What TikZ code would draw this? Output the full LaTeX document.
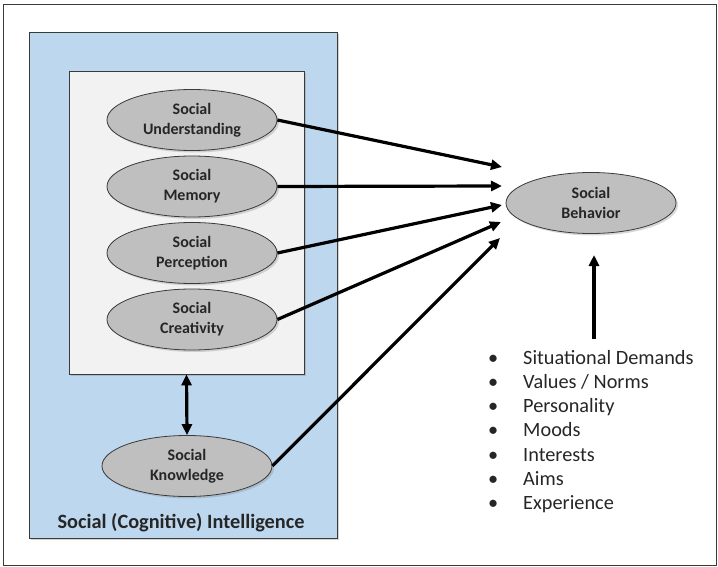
\documentclass[tikz,border=0pt]{standalone}
\usepackage{fontspec}
\setmainfont{Carlito}
\usetikzlibrary{positioning,shadows,arrows.meta,shapes.geometric}

\definecolor{siblue}{HTML}{BDD7EE}
\definecolor{siback}{HTML}{F2F2F2}
\definecolor{sigray}{HTML}{BFBFBF}
\definecolor{siline}{HTML}{3A3A3A}

\tikzset{
  soc/.style={ellipse,draw=siline,thick,fill=sigray,minimum width=170pt,minimum height=61pt,
    inner sep=0pt,align=center,font=\bfseries\fontsize{16}{20}\selectfont,text=black!85,
    drop shadow={shadow xshift=2pt,shadow yshift=-2pt,opacity=.3}},
  item/.style={anchor=base west,inner sep=0pt,font=\fontsize{20.3}{24}\selectfont,text=black!85},
  link/.style={-{Triangle[length=11pt,width=10pt]},line width=3.2pt}
}

\begin{document}
\begin{tikzpicture}[x=1pt,y=-1pt,node distance=66.5pt,on grid]
  \useasboundingbox (0,0) rectangle (718,567);
  \draw[siline,line width=.8pt] (3,4) rectangle (716,565);

  % boxes
  \node[draw=siline,thick,fill=siblue,drop shadow={shadow xshift=2pt,shadow yshift=-2pt,opacity=.35},
    minimum width=308pt,minimum height=506pt,inner sep=0pt] (sci) at (183,285) {};
  \node[draw=siline,thick,fill=siback,drop shadow={shadow xshift=2pt,shadow yshift=-2pt,opacity=.35},
    minimum width=235pt,minimum height=303pt,inner sep=0pt] (inner) at (186.5,222.5) {};
  \node[font=\bfseries\fontsize{20.3}{24}\selectfont,text=black!85] (title) at (181,523) {Social (Cognitive) Intelligence};

  % facets
  \node[soc] (und) at (192,120) {Social\\Understanding};
  \node[soc] (mem) [below=of und] {Social\\Memory};
  \node[soc] (per) [below=of mem] {Social\\Perception};
  \node[soc] (cre) [below=of per] {Social\\Creativity};
  \node[soc] (kno) at (187,466) {Social\\Knowledge};
  \node[soc] (beh) at (591,203) {Social\\Behavior};

  \coordinate (t1) at (502,167);
  \coordinate (t2) at (502,186);
  \coordinate (t3) at (502,205);
  \coordinate (t4) at (501,222);
  \coordinate (t5) at (500,238);

  \path[link]
    (und.east) edge (t1)
    (mem.east) edge (t2)
    (per.east) edge (t3)
    (cre.east) edge (t4)
    (kno.east) edge (t5);

  \draw[{Triangle[length=11pt,width=10pt]}-{Triangle[length=11pt,width=10pt]},line width=3.2pt]
    (inner.south) -- (kno.north);

  % influences
  \coordinate (fac) at (594,339);
  \coordinate (fac top) at (594,255);
  \draw[link] (fac) -- (fac top);

  \foreach \txt [count=\i] in {Situational Demands,Values / Norms,Personality,Moods,Interests,Aims,Experience}{
    \node[item] (b\i) at (488,{364+24.3*(\i-1)}) {\textbullet};
    \node[item] (i\i) at (523,{364+24.3*(\i-1)}) {\txt};
  }
\end{tikzpicture}
\end{document}
